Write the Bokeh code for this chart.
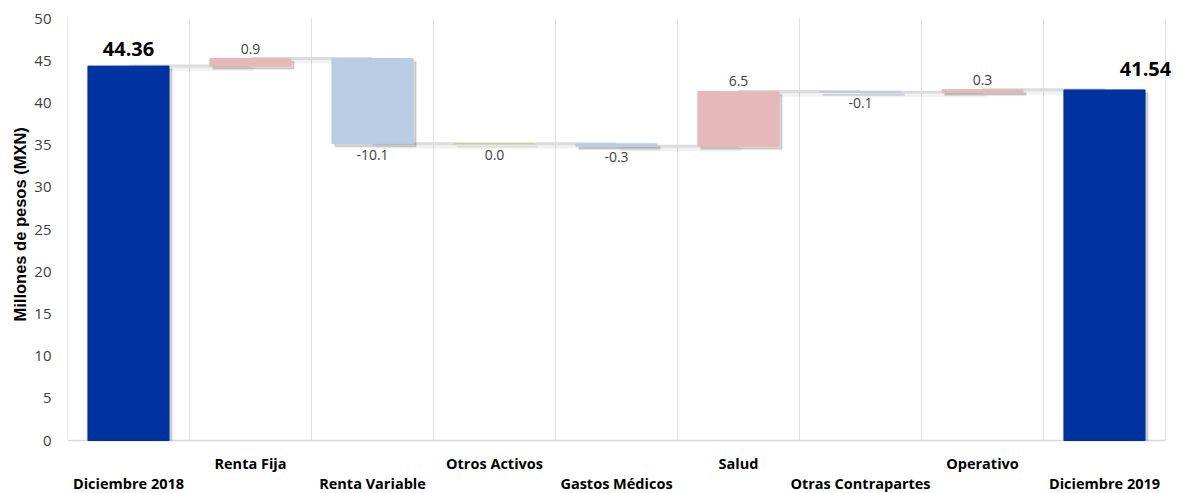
from bokeh.plotting import figure
from bokeh.models import Range1d, FixedTicker, ColumnDataSource, Title
from bokeh.core.properties import value
from bokeh.embed import file_html
from bokeh.resources import INLINE

categories = ["Diciembre 2018", "Renta Fija", "Renta Variable", "Otros Activos",
              "Gastos Médicos", "Salud", "Otras Contrapartes", "Operativo", "Diciembre 2019"]
start_total = 44.36
deltas = [0.9, -10.1, 0.0, -0.3, 6.5, -0.1, 0.3]
end_total = 41.54
y_ticks = [0, 5, 10, 15, 20, 25, 30, 35, 40, 45, 50]
y_title = "Millones de pesos (MXN)"

TOTAL_COLOR = "#0033A0"
POS_COLOR = "#E6B9B8"
NEG_COLOR = "#B9CDE5"
ZERO_COLOR = "#C3D69B"

W, H = 1176, 492
frame_left = 67
cats_right = 1165      # px where category area ends
frame_top = 18
zero_px = 440          # px of y=0
px_per_unit = (zero_px - frame_top) / 50.0
y_start = -(H - zero_px) / px_per_unit
px_per_cat = (cats_right - frame_left) / 9.0
x_end = 8.5 + (W - cats_right) / px_per_cat

p = figure(width=W, height=H, output_backend="svg", toolbar_location=None,
           x_range=Range1d(-0.5, x_end), y_range=Range1d(y_start, 50),
           x_axis_location=None, min_border_left=frame_left,
           min_border_right=0, min_border_top=frame_top,
           min_border_bottom=0)
p.outline_line_color = None
p.xgrid.visible = False
p.ygrid.visible = False

ax = p.yaxis[0]
ax.ticker = FixedTicker(ticks=y_ticks)
ax.axis_line_color = None
ax.major_tick_line_color = None
ax.minor_tick_line_color = None
ax.major_label_text_font = "Open Sans"
ax.major_label_text_font_size = "15px"
ax.major_label_text_color = "#404040"
ax.major_label_standoff = 10

# y title as a left-side title, bottom-anchored with an offset to match the reference
p.add_layout(Title(text=y_title, align="left", offset=H - 321,
                   text_font="Liberation Sans", text_font_style="bold",
                   text_font_size="16.5px", text_color="#000000", standoff=5), "left")

# build waterfall geometry
n = len(categories)
bw = 0.665
bottoms, tops, colors = [], [], []
levels = []
bottoms.append(0); tops.append(start_total); colors.append(TOTAL_COLOR)
run = start_total
levels.append(run)
for d in deltas:
    nxt = run + d
    bottoms.append(min(run, nxt)); tops.append(max(run, nxt))
    colors.append(POS_COLOR if d > 0 else (NEG_COLOR if d < 0 else ZERO_COLOR))
    run = nxt
    levels.append(run)
bottoms.append(0); tops.append(end_total); colors.append(TOTAL_COLOR)
xs = list(range(n))

# gridlines & baseline
gx = [i - 0.5 for i in range(n + 1)]
p.segment(x0=gx, y0=[0] * len(gx), x1=gx, y1=[50] * len(gx), line_color="#e0e0e0", line_width=1)
p.segment(x0=[-0.5], y0=[0], x1=[8.5], y1=[0], line_color="#d9d9d9", line_width=1.5)

# connectors (shadow + line)
cx0 = xs[:-1]
cx1 = xs[1:]
cy = levels[:len(cx0)]
sdx = 3 / px_per_cat
sdy = 3 / px_per_unit
p.segment(x0=[x + sdx for x in cx0], y0=[y - sdy for y in cy], x1=[x + sdx for x in cx1],
          y1=[y - sdy for y in cy], line_color="#000000", line_alpha=0.05, line_width=4)
p.segment(x0=cx0, y0=cy, x1=cx1, y1=cy, line_color="#dcdcdc", line_width=3)

# bar shadows
src_sh = ColumnDataSource(dict(left=[x - bw / 2 + sdx for x in xs], right=[x + bw / 2 + sdx for x in xs],
                               top=[t - sdy for t in tops], bottom=[max(b - sdy, 0) for b in bottoms]))
p.quad(left="left", right="right", top="top", bottom="bottom", source=src_sh,
       fill_color="#000000", fill_alpha=0.16, line_color="#000000", line_alpha=0.07, line_width=2)

src = ColumnDataSource(dict(left=[x - bw / 2 for x in xs], right=[x + bw / 2 for x in xs],
                            top=tops, bottom=bottoms, color=colors))
p.quad(left="left", right="right", top="top", bottom="bottom", source=src,
       fill_color="color", line_color="color", line_width=1)

# delta labels
pos_x, pos_y, pos_t = [], [], []
neg_x, neg_y, neg_t = [], [], []
for i, d in enumerate(deltas, start=1):
    if d > 0:
        pos_x.append(i); pos_y.append(tops[i]); pos_t.append(f"{d:.1f}")
    else:
        neg_x.append(i); neg_y.append(bottoms[i]); neg_t.append(f"{d:.1f}")
p.text(x=pos_x, y=pos_y, text=pos_t, text_align="center", text_baseline="bottom", y_offset=-5,
       text_font=value("Open Sans"), text_font_size="14px", text_color="#404040")
p.text(x=neg_x, y=neg_y, text=neg_t, text_align="center", text_baseline="top", y_offset=6,
       text_font=value("Open Sans"), text_font_size="14px", text_color="#404040")

# total labels
p.text(x=[0], y=[start_total], text=[f"{start_total:.2f}"], text_align="center", text_baseline="bottom",
       y_offset=-10, text_font=value("Open Sans"), text_font_style="bold", text_font_size="20px",
       text_color="#000000")
p.text(x=[8], y=[end_total], text=[f"{end_total:.2f}"], text_align="center", text_baseline="bottom",
       x_offset=41, y_offset=-14, text_font=value("Open Sans"), text_font_style="bold",
       text_font_size="20px", text_color="#000000")

# category labels (alternating rows)
odd = [i for i in range(n) if i % 2 == 1]
even = [i for i in range(n) if i % 2 == 0]
p.text(x=odd, y=[0] * len(odd), text=[categories[i] for i in odd], text_align="center",
       text_baseline="middle", y_offset=23, text_font=value("Open Sans"), text_font_style="bold",
       text_font_size="14.5px", text_color="#000000")
p.text(x=even, y=[0] * len(even), text=[categories[i] for i in even], text_align="center",
       text_baseline="middle", y_offset=43, text_font=value("Open Sans"), text_font_style="bold",
       text_font_size="14.5px", text_color="#000000")

open("out.html", "w").write(file_html(p, INLINE))
